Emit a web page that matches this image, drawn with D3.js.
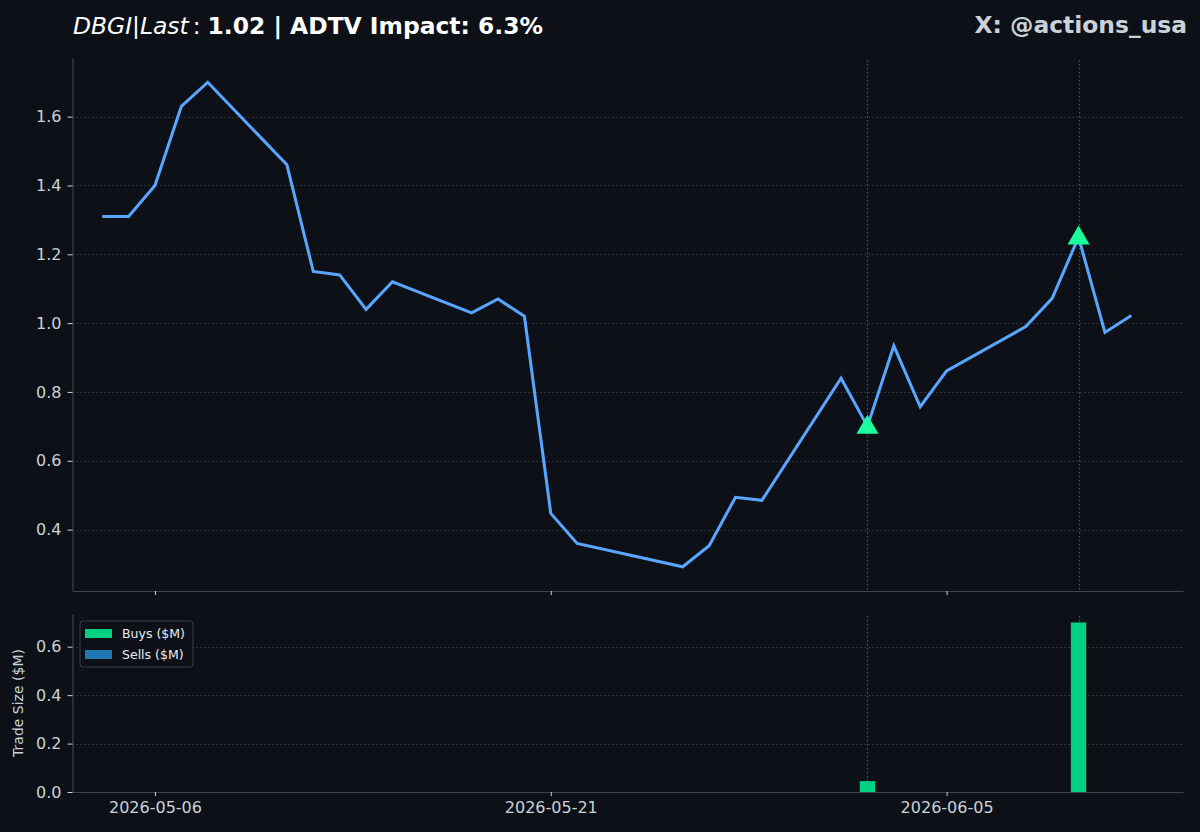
<!DOCTYPE html>
<html>
<head>
<meta charset="utf-8">
<script src="https://cdn.jsdelivr.net/npm/d3@7"></script>
<style>
  html, body { margin: 0; padding: 0; background: #0d1117; }
  svg { display: block; font-family: "DejaVu Sans", sans-serif; }
</style>
</head>
<body>
<svg id="chart" width="1200" height="832"></svg>
<script>
// price series
var dates = ["2026-05-04","2026-05-05","2026-05-06","2026-05-07","2026-05-08",
    "2026-05-11","2026-05-12","2026-05-13","2026-05-14","2026-05-15",
    "2026-05-18","2026-05-19","2026-05-20","2026-05-21","2026-05-22",
    "2026-05-26","2026-05-27","2026-05-28","2026-05-29",
    "2026-06-01","2026-06-02","2026-06-03","2026-06-04","2026-06-05",
    "2026-06-08","2026-06-09","2026-06-10","2026-06-11","2026-06-12"];
var prices = [1.31,1.31,1.40,1.63,1.70,
    1.46,1.15,1.14,1.04,1.12,
    1.03,1.07,1.02,0.447,0.36,
    0.292,0.353,0.494,0.485,
    0.84,0.70,0.934,0.757,0.861,
    0.99,1.072,1.25,0.973,1.022];

// trades
var buyDates = ["2026-06-02","2026-06-10"];
var buyValues = [0.045, 0.70];
var sellDates = [];
var sellValues = [];

var priceTicks = [0.4, 0.6, 0.8, 1.0, 1.2, 1.4, 1.6];
var tradeTicks = [0.0, 0.2, 0.4, 0.6];
var dateTicks = ["2026-05-06","2026-05-21","2026-06-05"];

var titleItalic = "DBGI|Last";
var titleBold = "1.02 | ADTV Impact: 6.3%";
var watermark = "X: @actions_usa";

var C = {
    bg: "#0d1117", line: "#58a6ff", buy: "#00d084", buyMark: "#1aff9c",
    sell: "#1f77b4", spine: "#3d444d", grid: "#3a414a", text: "#c9d1d9",
    vline: "#1c6e57"
};

var parse = d3.utcParse("%Y-%m-%d");
var fmt = d3.utcFormat("%Y-%m-%d");
var svg = d3.select("#chart");

var left = 72.5, right = 1183;
var top1 = { y0: 58, y1: 591 };
var bot1 = { y0: 614, y1: 792 };

var priceData = dates.map(function(d, i){ return { date: parse(d), v: prices[i] }; });
var buyData = buyDates.map(function(d, i){ return { date: parse(d), v: buyValues[i] }; });
var sellData = sellDates.map(function(d, i){ return { date: parse(d), v: sellValues[i] }; });

var ext = d3.extent(priceData, function(d){ return d.date; });
var x = d3.scaleUtc()
    .domain([d3.utcHour.offset(ext[0], -27), d3.utcHour.offset(ext[1], 47)])
    .range([left, right]);

var pe = d3.extent(prices);
var pad = (pe[1] - pe[0]) * 0.05;
var y = d3.scaleLinear().domain([pe[0] - pad, pe[1] + pad]).range([top1.y1, top1.y0]);
var yb = d3.scaleLinear().domain([0, d3.max(buyValues.concat(sellValues)) * 1.05]).range([bot1.y1, bot1.y0]);

svg.append("rect").attr("width", 1200).attr("height", 832).attr("fill", C.bg);

function gridY(scale, ticks){
    svg.append("g").selectAll("line").data(ticks).enter().append("line")
        .attr("x1", left).attr("x2", right)
        .attr("y1", function(d){ return Math.round(scale(d)) + 0.5; })
        .attr("y2", function(d){ return Math.round(scale(d)) + 0.5; })
        .attr("stroke", C.grid).attr("stroke-width", 1).attr("stroke-dasharray", "1.5,2.5");
}
gridY(y, priceTicks);
gridY(yb, tradeTicks.filter(function(d){ return d > 0; }));

// trade date markers
var markDates = buyData.concat(sellData);
[[top1, y], [bot1, yb]].forEach(function(p){
    svg.append("g").selectAll("line").data(markDates).enter().append("line")
        .attr("x1", function(d){ return Math.round(x(d.date)) + 0.5; })
        .attr("x2", function(d){ return Math.round(x(d.date)) + 0.5; })
        .attr("y1", p[0].y0 + 2).attr("y2", p[0].y1)
        .attr("stroke", C.vline).attr("stroke-width", 1.2).attr("stroke-dasharray", "1.5,2.5");
});

// price line
var line = d3.line().x(function(d){ return x(d.date); }).y(function(d){ return y(d.v); });
svg.append("path").datum(priceData).attr("d", line)
    .attr("fill", "none").attr("stroke", C.line).attr("stroke-width", 3)
    .attr("stroke-linejoin", "miter");

// buy markers on the price line
var priceByDate = {};
priceData.forEach(function(d){ priceByDate[fmt(d.date)] = d.v; });
var tri = d3.symbol().type(d3.symbolTriangle).size(210);
svg.append("g").selectAll("path").data(buyData).enter().append("path")
    .attr("d", tri)
    .attr("transform", function(d){ return "translate(" + x(d.date) + "," + (y(priceByDate[fmt(d.date)]) + 1) + ")"; })
    .attr("fill", C.buyMark);

// bars
var barW = x(d3.utcHour.offset(ext[0], 14.4)) - x(ext[0]);
svg.append("g").selectAll("rect").data(buyData).enter().append("rect")
    .attr("x", function(d){ return x(d.date) - barW / 2; })
    .attr("width", barW)
    .attr("y", function(d){ return yb(d.v); })
    .attr("height", function(d){ return yb(0) - yb(d.v); })
    .attr("fill", C.buy);
svg.append("g").selectAll("rect").data(sellData).enter().append("rect")
    .attr("x", function(d){ return x(d.date) - barW / 2; })
    .attr("width", barW)
    .attr("y", function(d){ return yb(d.v); })
    .attr("height", function(d){ return yb(0) - yb(d.v); })
    .attr("fill", C.sell);

// axes
function styleAxis(g){
    g.select(".domain").attr("stroke", C.spine).attr("stroke-width", 1.2);
    g.selectAll(".tick line").attr("stroke", C.text).attr("stroke-width", 1);
    g.selectAll(".tick text").attr("fill", C.text).attr("font-size", "16px")
        .attr("font-family", "DejaVu Sans");
}
var tickDates = dateTicks.map(parse);
svg.append("g").attr("transform", "translate(0," + top1.y1 + ")")
    .call(d3.axisBottom(x).tickValues(tickDates).tickFormat("").tickSize(4).tickSizeOuter(0))
    .call(styleAxis);
svg.append("g").attr("transform", "translate(0," + bot1.y1 + ")")
    .call(d3.axisBottom(x).tickValues(tickDates).tickFormat(fmt).tickSize(4).tickPadding(6).tickSizeOuter(0))
    .call(styleAxis);
svg.append("g").attr("transform", "translate(" + left + ",0)")
    .call(d3.axisLeft(y).tickValues(priceTicks).tickFormat(d3.format(".1f")).tickSize(5).tickPadding(6).tickSizeOuter(0))
    .call(styleAxis);
svg.append("g").attr("transform", "translate(" + left + ",0)")
    .call(d3.axisLeft(yb).tickValues(tradeTicks).tickFormat(d3.format(".1f")).tickSize(5).tickPadding(6).tickSizeOuter(0))
    .call(styleAxis);

svg.append("text")
    .attr("transform", "translate(23," + ((bot1.y0 + bot1.y1) / 2) + ") rotate(-90)")
    .attr("text-anchor", "middle").attr("fill", C.text).attr("font-size", "14px")
    .text("Trade Size ($M)");

// legend
var lg = svg.append("g").attr("transform", "translate(80,621)");
lg.append("rect").attr("width", 113).attr("height", 46).attr("rx", 3)
    .attr("fill", C.bg).attr("stroke", C.grid).attr("stroke-width", 1);
[["Buys ($M)", C.buy], ["Sells ($M)", C.sell]].forEach(function(e, i){
    lg.append("rect").attr("x", 5).attr("y", 8 + i * 21).attr("width", 27).attr("height", 9).attr("fill", e[1]);
    lg.append("text").attr("x", 42).attr("y", 17 + i * 21).attr("fill", "#e6edf3")
        .attr("font-size", "12.5px").text(e[0]);
});

// title + watermark
var t = svg.append("text").attr("x", 73).attr("y", 34).attr("fill", "#ffffff").attr("font-size", "23.4px");
t.append("tspan").attr("font-style", "italic").text(titleItalic);
t.append("tspan").attr("dx", 4).text(":");
t.append("tspan").attr("dx", 7).attr("font-weight", "bold").text(titleBold);

svg.append("text").attr("x", 1187).attr("y", 33).attr("text-anchor", "end")
    .attr("fill", C.text).attr("font-size", "23.4px").attr("font-weight", "bold")
    .text(watermark);
</script>
</body>
</html>
